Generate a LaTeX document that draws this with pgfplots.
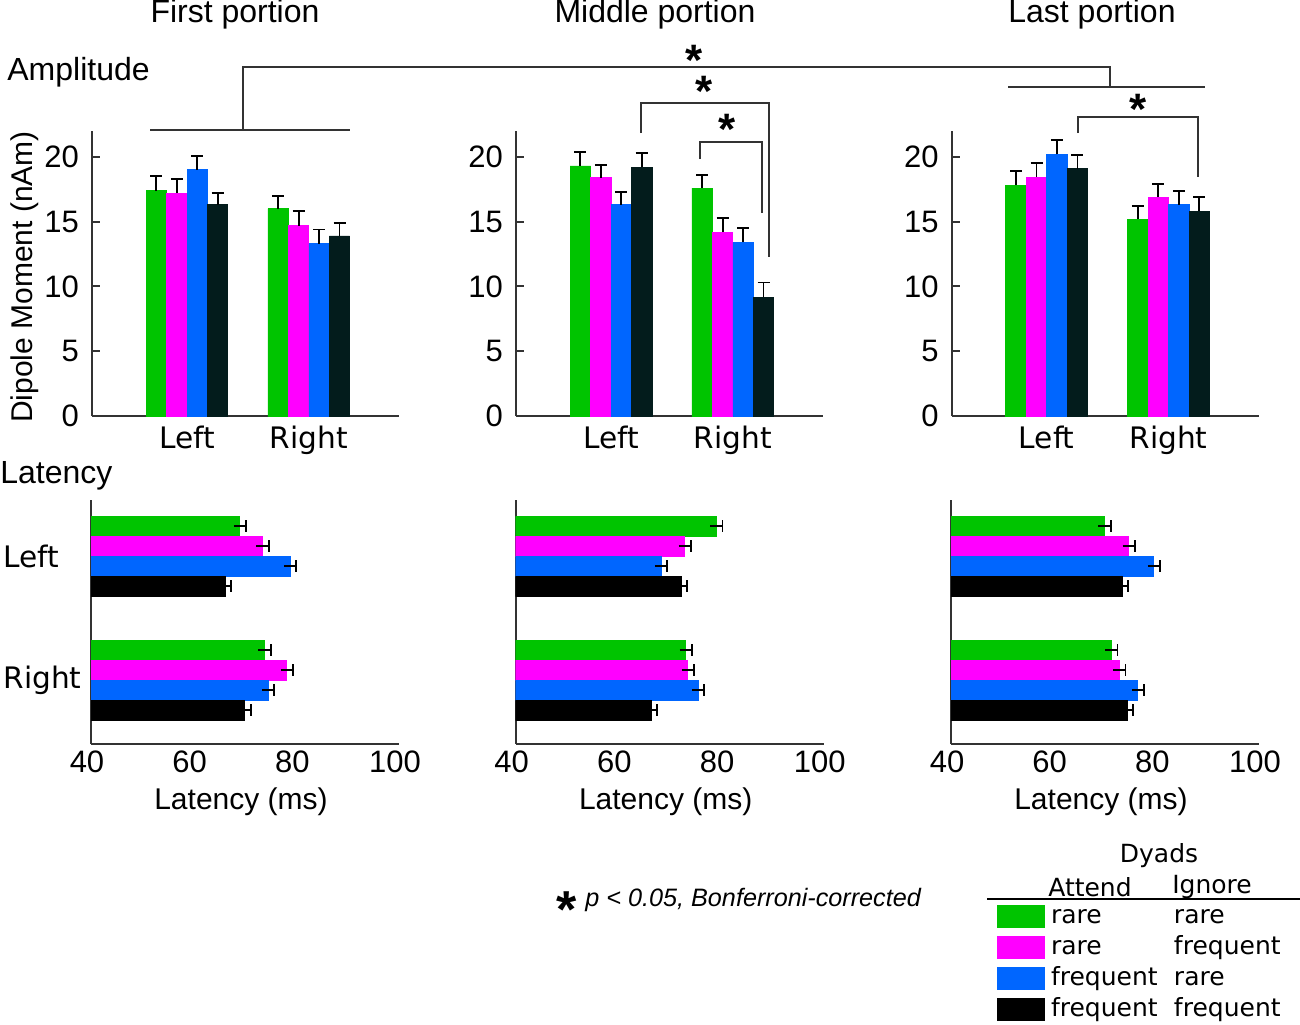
\documentclass[border=0pt]{standalone}
\usepackage{pgfplots}
\pgfplotsset{compat=1.18}
\usepackage{fontspec}
\setmainfont{Liberation Sans}
\newfontfamily\dejavu{DejaVu Sans}
\definecolor{cg}{HTML}{00C400}
\definecolor{cm}{HTML}{FF00FF}
\definecolor{cb}{HTML}{0066FF}
\definecolor{ck}{HTML}{031C1C}
\definecolor{axc}{HTML}{333333}
\newcommand{\fs}[1]{\fontsize{#1}{#1}\selectfont}
\newcommand{\sstar}{\raisebox{-0.42em}{*}}
\tikzset{sigstar/.style={font=\bfseries\fs{22}, inner sep=0pt, anchor=north, text depth=0pt}}
\pgfplotsset{
  common/.style={scale only axis, anchor=south west,
    axis x line*=bottom, axis y line*=left,
    axis line style={axc, line width=1pt},
    /pgf/number format/assume math mode=true,
    tick label style={font=\fs{15.5}},
    error bars/error bar style={black, line width=0.9pt},
    error bars/error mark options={black, line width=0.9pt, mark size=3pt, rotate=90},
  },
  topax/.style={common, width=153.5pt, height=142.5pt,
    xmin=0.22, xmax=2.74, ymin=0, ymax=22,
    ytick={0,5,10,15,20}, xtick={1,2}, xticklabels={Left,Right},
    xticklabel style={font=\dejavu\fs{14.8}, yshift=2.5pt},
    x tick style={draw=none}, y tick style={axc, line width=1pt},
    tick align=inside, major tick length=4pt,
    yticklabel style={xshift=-3pt},
    ybar, bar width=0.167, bar shift=0pt,
    error bars/y dir=plus, error bars/y explicit,
  },
  botax/.style={common, width=154pt, height=122pt,
    xmin=40, xmax=100, ymin=0.545, ymax=2.517, y dir=reverse,
    xtick={40,60,80,100}, major tick length=0pt,
    xticklabel style={xshift=-2pt},
    xlabel={Latency (ms)}, xlabel style={font=\fs{15}, yshift=-0.5pt, xshift=-2pt},
    xbar, bar width=0.1617, bar shift=0pt,
    error bars/x dir=both, error bars/x explicit,
  },
}
\begin{document}
\begin{tikzpicture}
\begin{scope}[x=0.5pt,y=-0.5pt]
\path[use as bounding box] (0,0) rectangle (1300,1024);
\node[font=\fs{16}] at (235,14) {First portion};
\node[font=\fs{16}] at (655,14) {Middle portion};
\node[font=\fs{16}] at (1092,14) {Last portion};
\node[font=\fs{16}, anchor=west, inner sep=0pt] at (7,72) {Amplitude};
\node[font=\fs{16}, anchor=west, inner sep=0pt] at (0,476) {Latency};
\node[font=\fs{15}, rotate=90] at (25,277) {Dipole Moment (nAm)};
% significance brackets
\draw[axc, line width=0.8pt] (243,130) -- (243,67) -- (1110,67) -- (1110,87);
\draw[axc, line width=0.8pt] (150,130) -- (350,130);
\draw[axc, line width=0.8pt] (1008,87) -- (1205,87);
\draw[axc, line width=0.8pt] (641,133) -- (641,103) -- (769,103) -- (769,257);
\draw[axc, line width=0.8pt] (700,159) -- (700,142) -- (762,142) -- (762,213);
\draw[axc, line width=0.8pt] (1078,133) -- (1078,117) -- (1198,117) -- (1198,177);
\node[sigstar] at (694,45) {\sstar};
\node[sigstar] at (704,76) {\sstar};
\node[sigstar] at (727,114) {\sstar};
\node[sigstar] at (1138,94) {\sstar};
% footnote
\node[font=\bfseries\fs{26}, inner sep=0pt, anchor=north] at (567,891) {*};
\node[font=\itshape\fs{12.6}, inner sep=0pt, anchor=west] at (585,900) {p < 0.05, Bonferroni-corrected};
% legend header
\node[font=\dejavu\fs{12.5}] at (1159,856) {Dyads};
\node[font=\dejavu\fs{12.5}] at (1090,887) {Attend};
\node[font=\dejavu\fs{12.5}] at (1212,887) {Ignore};
\draw[black, line width=0.8pt] (987,899) -- (1300,899);
\end{scope}

% ---------- Amplitude panels ----------
\begin{axis}[topax, at={(46pt,-208pt)}]
\addplot[fill=cg,draw=cg] coordinates {(0.748,17.4) +- (0,1.1) (1.748,16.0) +- (0,1.0)};
\addplot[fill=cm,draw=cm] coordinates {(0.916,17.2) +- (0,1.1) (1.916,14.7) +- (0,1.1)};
\addplot[fill=cb,draw=cb] coordinates {(1.084,19.0) +- (0,1.1) (2.084,13.3) +- (0,1.1)};
\addplot[fill=ck,draw=ck] coordinates {(1.252,16.3) +- (0,0.9) (2.252,13.9) +- (0,1.0)};
\end{axis}

\begin{axis}[topax, at={(258pt,-208pt)}]
\addplot[fill=cg,draw=cg] coordinates {(0.748,19.3) +- (0,1.1) (1.748,17.6) +- (0,1.0)};
\addplot[fill=cm,draw=cm] coordinates {(0.916,18.4) +- (0,1.0) (1.916,14.2) +- (0,1.1)};
\addplot[fill=cb,draw=cb] coordinates {(1.084,16.3) +- (0,1.0) (2.084,13.4) +- (0,1.1)};
\addplot[fill=ck,draw=ck] coordinates {(1.252,19.2) +- (0,1.1) (2.252,9.15) +- (0,1.15)};
\end{axis}

\begin{axis}[topax, at={(475.85pt,-208pt)}]
\addplot[fill=cg,draw=cg] coordinates {(0.748,17.8) +- (0,1.1) (1.748,15.2) +- (0,1.0)};
\addplot[fill=cm,draw=cm] coordinates {(0.916,18.45) +- (0,1.05) (1.916,16.9) +- (0,1.0)};
\addplot[fill=cb,draw=cb] coordinates {(1.084,20.2) +- (0,1.1) (2.084,16.3) +- (0,1.1)};
\addplot[fill=ck,draw=ck] coordinates {(1.252,19.1) +- (0,1.05) (2.252,15.8) +- (0,1.1)};
\end{axis}

% ---------- Latency panels ----------
\begin{axis}[botax, at={(45.5pt,-372pt)}, ytick={1,2}, yticklabels={Left,Right},
  yticklabel style={font=\dejavu\fs{14.8}, anchor=east, text width=39pt, align=left, inner sep=0pt, xshift=-4.5pt}]
\addplot[fill=cg,draw=cg] coordinates {(69.0,0.7575) += (1.2,0) -= (0,0) (73.8,1.7575) += (1.2,0) -= (0,0)};
\addplot[fill=cm,draw=cm] coordinates {(73.4,0.919) += (1.2,0) -= (0,0) (78.1,1.919) += (1.2,0) -= (0,0)};
\addplot[fill=cb,draw=cb] coordinates {(78.8,1.081) += (1.2,0) -= (0,0) (74.5,2.081) += (1.2,0) -= (0,0)};
\addplot[fill=black,draw=black] coordinates {(66.1,1.2425) += (1.2,0) -= (0,0) (69.9,2.2425) += (1.2,0) -= (0,0)};
\end{axis}

\begin{axis}[botax, at={(257.85pt,-372pt)}, ytick=\empty]
\addplot[fill=cg,draw=cg] coordinates {(79.1,0.7575) += (1.2,0) -= (0,0) (73.1,1.7575) += (1.2,0) -= (0,0)};
\addplot[fill=cm,draw=cm] coordinates {(72.9,0.919) += (1.2,0) -= (0,0) (73.5,1.919) += (1.2,0) -= (0,0)};
\addplot[fill=cb,draw=cb] coordinates {(68.3,1.081) += (1.2,0) -= (0,0) (75.5,2.081) += (1.2,0) -= (0,0)};
\addplot[fill=black,draw=black] coordinates {(72.2,1.2425) += (1.2,0) -= (0,0) (66.4,2.2425) += (1.2,0) -= (0,0)};
\end{axis}

\begin{axis}[botax, at={(475.5pt,-372pt)}, ytick=\empty,
  legend style={draw=none, fill=none, at={(axis description cs:0.150,-0.656)}, anchor=north west,
    font=\dejavu\fs{12.5}, inner sep=0pt, outer sep=0pt,
    nodes={inner sep=0pt, text height=9.5pt, text depth=2.5pt},
    row sep=3.5pt, column sep=3pt},
  legend cell align=left,
  legend image code/.code={\fill[#1] (0pt,-5.5pt) rectangle (23.5pt,5.5pt);}]
\addplot[fill=cg,draw=cg] coordinates {(69.9,0.7575) += (1.2,0) -= (0,0) (71.25,1.7575) += (1.2,0) -= (0,0)};
\addlegendentry{\makebox[61.5pt][l]{rare}rare}
\addplot[fill=cm,draw=cm] coordinates {(74.6,0.919) += (1.2,0) -= (0,0) (72.8,1.919) += (1.2,0) -= (0,0)};
\addlegendentry{\makebox[61.5pt][l]{rare}frequent}
\addplot[fill=cb,draw=cb] coordinates {(79.5,1.081) += (1.2,0) -= (0,0) (76.4,2.081) += (1.2,0) -= (0,0)};
\addlegendentry{\makebox[61.5pt][l]{frequent}rare}
\addplot[fill=black,draw=black] coordinates {(73.3,1.2425) += (1.2,0) -= (0,0) (74.3,2.2425) += (1.2,0) -= (0,0)};
\addlegendentry{\makebox[61.5pt][l]{frequent}frequent}
\end{axis}
\end{tikzpicture}
\end{document}
